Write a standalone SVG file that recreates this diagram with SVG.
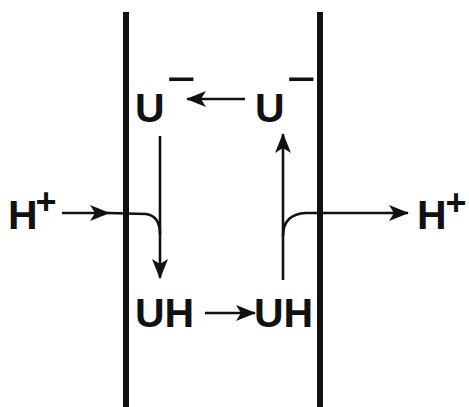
<svg xmlns="http://www.w3.org/2000/svg" width="469" height="407" viewBox="0 0 469 407">
<style>
.t{font-family:"Liberation Sans",Arial,sans-serif;font-weight:bold;font-size:41px;fill:#111}
.p{font-family:"Liberation Sans",Arial,sans-serif;font-weight:bold;font-size:36px;fill:#111;text-anchor:middle}
.m{font-family:"Liberation Sans",Arial,sans-serif;font-weight:normal;font-size:50px;fill:#111;text-anchor:middle}
.mem{stroke:#111;stroke-width:6;fill:none}
.c{stroke:#111;stroke-width:2.6;fill:none}
</style>
<defs>
<marker id="ah" viewBox="0 0 20 16" refX="19" refY="8" markerWidth="20" markerHeight="16" markerUnits="userSpaceOnUse" orient="auto">
<path d="M0,0 L20,8 L0,16 L5,8 Z" fill="#111"/>
</marker>
</defs>
<g id="membrane-left"><line class="mem" x1="126" y1="12" x2="126" y2="407"/></g>
<g id="membrane-right"><line class="mem" x1="320" y1="12" x2="320" y2="407"/></g>
<g id="h-left"><text class="t" x="8" y="229">H</text><text class="p" x="46" y="214">+</text></g>
<g id="h-right"><text class="t" x="417" y="229">H</text><text class="p" x="456" y="215">+</text></g>
<g id="u-left"><text class="t" x="135" y="122">U</text><text class="m" x="181" y="96">−</text></g>
<g id="u-right"><text class="t" x="255" y="122">U</text><text class="m" x="301" y="96">−</text></g>
<g id="uh-left"><text class="t" x="135" y="327">UH</text></g>
<g id="uh-right"><text class="t" x="254" y="327">UH</text></g>
<g id="connectors">
<line class="c" x1="62" y1="213" x2="109" y2="213" marker-end="url(#ah)"/>
<path class="c" d="M108,213 L146,214 Q160,216 160,234"/>
<line class="c" x1="160" y1="136" x2="160" y2="278" marker-end="url(#ah)"/>
<line class="c" x1="283" y1="280" x2="283" y2="134" marker-end="url(#ah)"/>
<path class="c" d="M283,236 Q283,214 306,213 L408,213" marker-end="url(#ah)"/>
<line class="c" x1="245" y1="99" x2="187" y2="99" marker-end="url(#ah)"/>
<line class="c" x1="205" y1="313" x2="255" y2="313" marker-end="url(#ah)"/>
</g>
</svg>
